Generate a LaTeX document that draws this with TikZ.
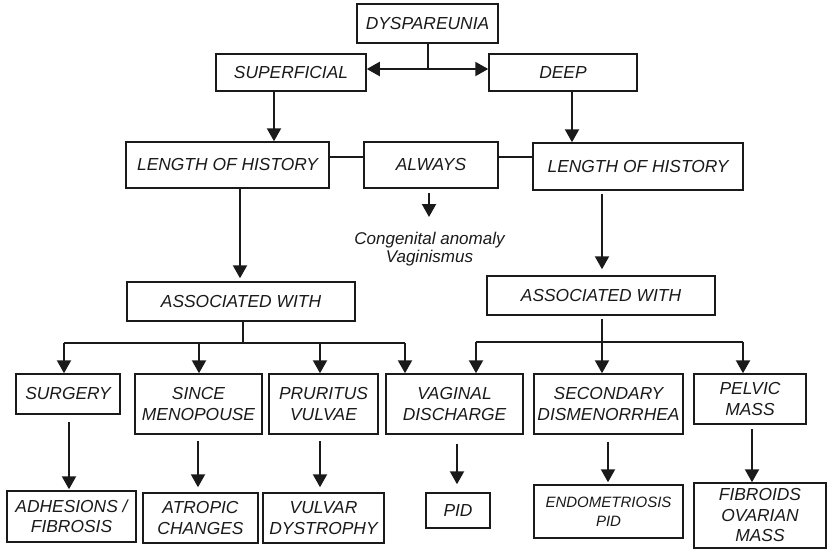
\documentclass[tikz,border=0pt]{standalone}
\usepackage{fontspec}
\setmainfont{Liberation Sans}
\usetikzlibrary{arrows.meta}
\definecolor{ink}{HTML}{1A1A1A}
\begin{document}
\begin{tikzpicture}[x=1pt,y=-1pt,
  box/.style={draw=ink,line width=1.5pt,fill=white,inner sep=0pt,align=center,
    text=ink,font=\fontsize{17.4}{20.5}\selectfont\itshape},
  link/.style={draw=ink,line width=1.4pt},
  stem/.style={draw=ink,line width=2.2pt},
  arr/.style={stem,-{Triangle[length=13pt,width=14pt]}},
  note/.style={inner sep=0pt,align=center,text=ink,font=\fontsize{17}{17.5}\selectfont\itshape}
]
\useasboundingbox (0,0) rectangle (828,550);

% top level
\node[box,minimum width=141pt,minimum height=39pt] (dys) at (427.5,23.5) {DYSPAREUNIA};
\node[box,minimum width=150pt,minimum height=37pt] (sup) at (291,72.5) {SUPERFICIAL};
\node[box,minimum width=148pt,minimum height=37pt] (deep) at (563,72.5) {DEEP};

% history row
\node[box,minimum width=203pt,minimum height=46pt] (lohL) at (227.5,165) {LENGTH OF HISTORY};
\node[box,minimum width=134pt,minimum height=46pt] (always) at (431,165) {ALWAYS};
\node[box,minimum width=210pt,minimum height=47pt] (lohR) at (638,166.5) {LENGTH OF HISTORY};
\node[note] (cong) at (429.5,249) {Congenital anomaly\\Vaginismus};

% association row
\node[box,minimum width=228pt,minimum height=39pt] (assocL) at (241,301.5) {ASSOCIATED WITH};
\node[box,minimum width=228pt,minimum height=39pt] (assocR) at (601,295.5) {ASSOCIATED WITH};

% findings
\node[box,minimum width=104pt,minimum height=40pt] (surg) at (68,394) {SURGERY};
\node[box,minimum width=127pt,minimum height=60pt] (meno) at (198.5,404) {SINCE\\MENOPOUSE};
\node[box,minimum width=109pt,minimum height=60pt] (prur) at (323.5,404) {PRURITUS\\VULVAE};
\node[box,minimum width=137pt,minimum height=60pt] (vag) at (454.5,404) {VAGINAL\\DISCHARGE};
\node[box,minimum width=149pt,minimum height=60pt] (sec) at (608.5,404) {SECONDARY\\DISMENORRHEA};
\node[box,minimum width=112pt,minimum height=50pt] (pelv) at (750,399) {PELVIC\\MASS};

% diagnoses
\node[box,minimum width=129pt,minimum height=51pt] (adh) at (71.5,516.5) {ADHESIONS /\\FIBROSIS};
\node[box,minimum width=115pt,minimum height=50pt] (atro) at (200.5,518) {ATROPIC\\CHANGES};
\node[box,minimum width=121pt,minimum height=50pt] (vulv) at (323.5,518) {VULVAR\\DYSTROPHY};
\node[box,minimum width=64pt,minimum height=35pt] (pid) at (458,510.5) {PID};
\node[box,minimum width=149pt,minimum height=53pt,font=\fontsize{15}{19}\selectfont\itshape] (endo) at (608.5,511.5) {ENDOMETRIOSIS\\PID};
\node[box,minimum width=132pt,minimum height=65pt] (fib) at (760,515.5) {FIBROIDS\\OVARIAN\\MASS};

% junctions and bus lines
\coordinate (j0) at (428,69);
\coordinate (congtip) at (429,217);
\coordinate (busL) at (243,343);
\coordinate (busR) at (602,342);
\coordinate (bL1) at (64,343);
\coordinate (bL2) at (199,343);
\coordinate (bL3) at (320,343);
\coordinate (bL4) at (405,343);
\coordinate (bR1) at (476,342);
\coordinate (bR2) at (602,342);
\coordinate (bR3) at (743,342);

% split into superficial / deep
\draw[stem] (dys.south -| j0) -- (j0);
\draw[arr] (j0) -- (j0 -| sup.east);
\draw[arr] (j0) -- (j0 -| deep.west);

\draw[arr] ([xshift=-17pt]sup.south) -- ([xshift=46.5pt]lohL.north);
\draw[arr] ([xshift=9pt]deep.south) -- ([xshift=-66pt]lohR.north);

% history row links (yshift is in page direction: positive is up)
\draw[link] ([yshift=8pt]lohL.east) -- ([yshift=8pt]always.west);
\draw[link] ([yshift=8pt]always.east) -- ([yshift=9.5pt]lohR.west);
\draw[arr] ([xshift=-2pt,yshift=-4pt]always.south) -- (congtip);

% down to associations
\draw[arr] ([xshift=12.5pt]lohL.south) -- ([xshift=-1pt,yshift=3pt]assocL.north);
\draw[arr] ([xshift=-36pt,yshift=-3pt]lohR.south) -- ([xshift=1pt,yshift=6pt]assocR.north);

% left bus
\draw[stem] ([xshift=2pt]assocL.south) -- (busL);
\draw[stem] (bL1) -- (bL4);
\draw[arr] (bL1) -- (bL1 |- surg.north);
\draw[arr] (bL2) -- (bL2 |- meno.north);
\draw[arr] (bL3) -- (bL3 |- prur.north);
\draw[arr] (bL4) -- (bL4 |- vag.north);

% right bus
\draw[stem] ([xshift=1pt,yshift=-3pt]assocR.south) -- (busR);
\draw[stem] (bR1) -- (bR3);
\draw[arr] (bR1) -- (bR1 |- vag.north);
\draw[arr] (bR2) -- (bR2 |- sec.north);
\draw[arr] (bR3) -- (bR3 |- pelv.north);

% findings to diagnoses
\draw[arr] ([xshift=1pt,yshift=-7pt]surg.south) -- ([xshift=-2.5pt,yshift=1pt]adh.north);
\draw[arr] ([xshift=-0.5pt,yshift=-6pt]meno.south) -- ([xshift=-2.5pt,yshift=5pt]atro.north);
\draw[arr] ([xshift=-3.5pt,yshift=-6pt]prur.south) -- ([xshift=-3.5pt,yshift=5pt]vulv.north);
\draw[arr] ([xshift=2.5pt,yshift=-9pt]vag.south) -- ([xshift=-1pt,yshift=8pt]pid.north);
\draw[arr] ([xshift=-0.5pt,yshift=-7pt]sec.south) -- ([xshift=-0.5pt,yshift=2pt]endo.north);
\draw[arr] ([xshift=2pt,yshift=-4pt]pelv.south) -- ([xshift=-8pt]fib.north);
\end{tikzpicture}
\end{document}
